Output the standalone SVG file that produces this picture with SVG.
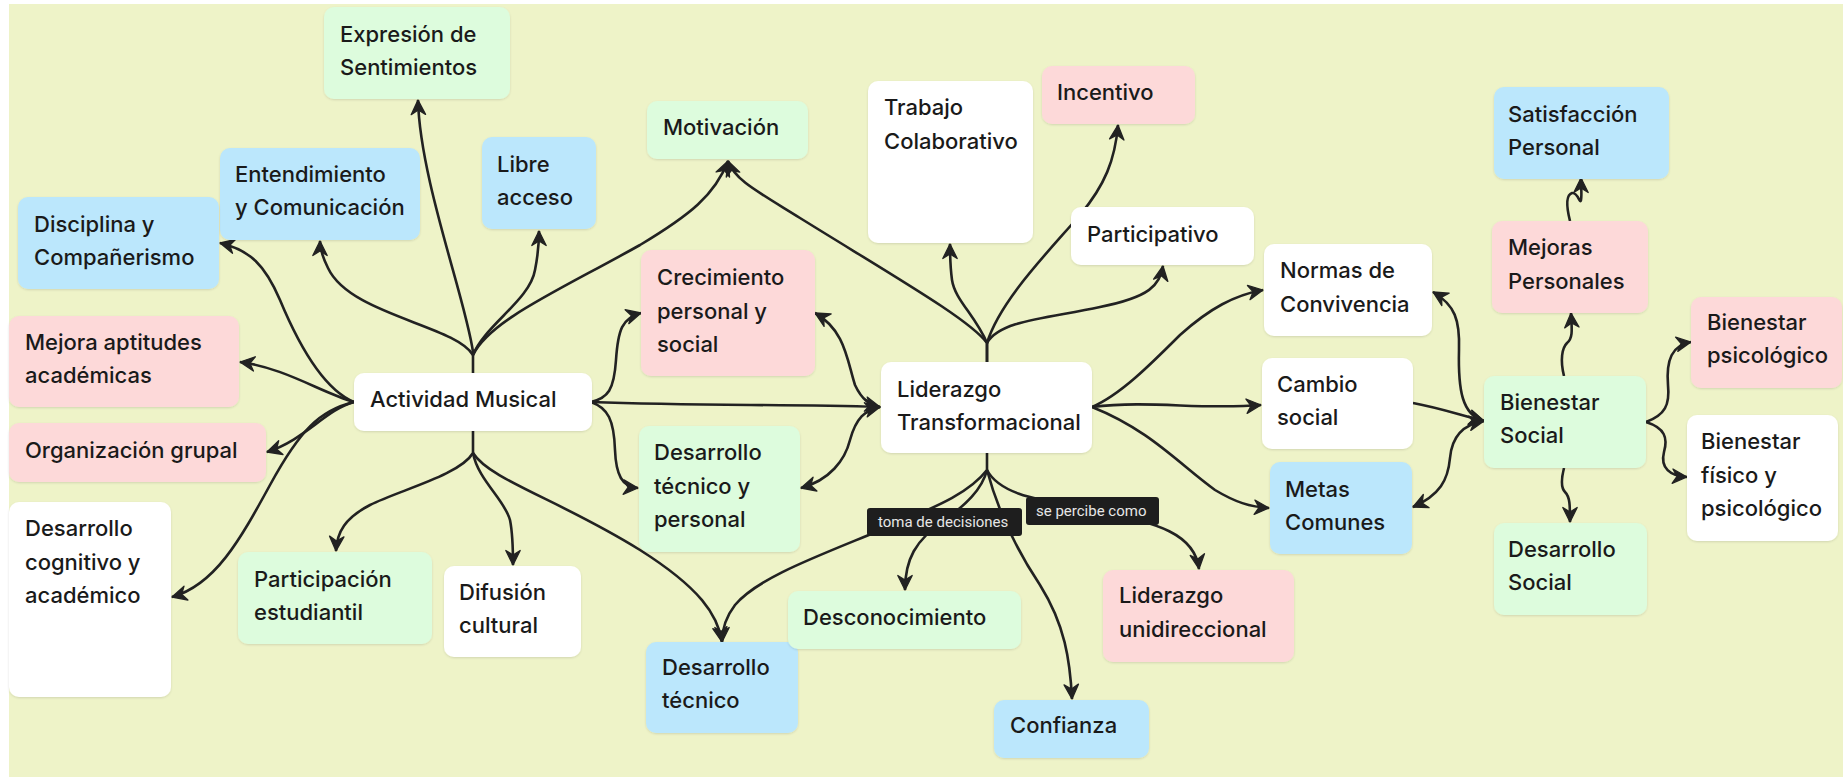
<svg xmlns="http://www.w3.org/2000/svg" width="1843" height="780" viewBox="0 0 1843 780">
<defs>
<style>
.n rect{stroke:none;filter:url(#sh)}
.g{fill:#ddfcdd}.b{fill:#bbe7fc}.p{fill:#fdd9d9}.w{fill:#ffffff}
.n text{font-family:Inter,"Noto Sans","DejaVu Sans",sans-serif;font-size:22px;font-weight:500;fill:#1a1a1a}
.c path{fill:none;stroke:#222;stroke-width:2.6;stroke-linecap:butt;stroke-linejoin:round}
.e{marker-end:url(#ah)}
.d{marker-start:url(#ah);marker-end:url(#ah)}
.lb rect{fill:#1e1e1e}
.lb text{font-family:Roboto,"Liberation Sans",sans-serif;font-size:15px;fill:#e6e6e6}
</style>
<filter id="sh" x="-10%" y="-10%" width="120%" height="130%">
<feDropShadow dx="0" dy="1" stdDeviation="1.2" flood-color="#000" flood-opacity="0.12"/>
</filter>
<marker id="ah" viewBox="0 0 18 18" refX="16" refY="9" markerWidth="18" markerHeight="18" markerUnits="userSpaceOnUse" orient="auto-start-reverse">
<path d="M1.5,1.8 L16,9 L1.5,16.2 L6,9 Z" fill="#222" stroke="#222" stroke-width="1.3" stroke-linejoin="round"/>
</marker>
</defs>
<rect x="0" y="0" width="1843" height="780" fill="#ffffff"/>
<rect x="9" y="4" width="1834" height="773" fill="#eef3c8"/>

<g id="connectors" class="c">
<path class="e" d="M473,373 V352 C466,300 420,180 418,100"/>
<path class="e" d="M473,355 C455,325 350,315 328,268 C323,258 320,250 320,241"/>
<path class="e" d="M473,355 C485,325 530,300 535,270 C538,255 539,245 539,231"/>
<path class="e" d="M473,355 C490,320 560,290 640,245 C690,215 715,195 728,161"/>
<path class="e" d="M987,362 V343 C970,320 900,280 800,218 C755,190 735,180 728,161"/>
<path class="e" d="M354,402 C330,392 305,360 280,300 C265,265 250,250 220,243"/>
<path class="e" d="M354,402 C320,392 285,368 240,362"/>
<path class="e" d="M354,402 C325,410 305,440 267,452"/>
<path class="e" d="M354,402 C320,410 300,430 270,485 C240,540 215,585 172,597"/>
<path class="e" d="M473,431 V453 C460,475 400,490 370,505 C345,518 337,532 336,551"/>
<path class="e" d="M473,453 C478,480 505,500 510,520 C513,535 513,550 513,565"/>
<path class="e" d="M473,453 C490,480 560,500 640,550 C700,588 718,615 722,642"/>
<path class="e" d="M591,402 C700,406 780,404 880,407"/>
<path class="e" d="M591,402 C608,398 614,390 616,360 C618,330 622,318 641,313"/>
<path class="e" d="M591,402 C608,408 614,420 615,450 C616,475 622,487 638,488"/>
<path class="d" d="M815,313 C845,330 847,360 855,385 C862,400 870,405 880,407"/>
<path class="d" d="M801,488 C830,480 845,460 850,440 C856,418 865,410 880,407"/>
<path class="e" d="M987,362 V343 C975,315 955,300 952,280 C950,265 950,255 950,244"/>
<path class="e" d="M987,343 C1000,300 1050,250 1080,215 C1105,185 1115,160 1118,125"/>
<path class="e" d="M987,343 C1000,320 1050,318 1100,307 C1150,297 1160,285 1163,266"/>
<path class="e" d="M1092,407 C1120,395 1150,365 1180,335 C1210,308 1235,295 1263,290"/>
<path class="e" d="M1092,407 C1150,400 1200,410 1261,405"/>
<path class="e" d="M1092,407 C1150,430 1180,465 1215,490 C1235,502 1250,507 1269,508"/>
<path class="e" d="M987,453 V470 C970,492 940,505 900,522 C830,552 760,575 735,605 C725,618 722,630 722,642"/>
<path class="e" d="M987,470 C982,490 965,505 945,520 C915,540 905,560 905,590"/>
<path class="e" d="M987,470 C995,500 1010,540 1040,585 C1065,625 1070,660 1072,699"/>
<path class="e" d="M987,470 C1000,495 1040,500 1090,510 C1160,522 1195,535 1199,569"/>
<path class="d" d="M1433,292 C1455,305 1460,320 1459,350 C1458,390 1462,415 1484,421"/>
<path class="e" d="M1413,403 C1440,408 1460,415 1484,421"/>
<path class="d" d="M1413,507 C1440,495 1448,480 1450,458 C1452,435 1465,424 1484,421"/>
<path class="e" d="M1564,376 C1560,360 1562,348 1567,343 C1573,338 1572,330 1571,313"/>
<path class="e" d="M1570,221 C1566,205 1566,195 1572,193 C1578,192 1580,205 1581,200 C1582,195 1581,188 1581,178"/>
<path class="e" d="M1564,468 C1561,480 1561,488 1565,492 C1570,497 1570,505 1570,522"/>
<path class="e" d="M1646,422 C1665,415 1670,405 1668,385 C1666,360 1672,345 1691,342"/>
<path class="e" d="M1646,422 C1665,428 1668,438 1664,452 C1660,468 1670,476 1687,477"/>
</g>

<g id="labels" class="lb">
<g id="lbl-toma"><rect x="867" y="508" width="155" height="28" rx="3"/><text x="878" y="527">toma de decisiones</text></g>
<g id="lbl-percibe"><rect x="1026" y="497" width="133" height="28" rx="3"/><text x="1036" y="516">se percibe como</text></g>
</g>

<g id="expresion" class="n"><rect class="g" x="324" y="7" width="186" height="92" rx="10"/><text x="340" y="42">Expresión de</text><text x="340" y="75">Sentimientos</text></g>
<g id="entendimiento" class="n"><rect class="b" x="220" y="148" width="200" height="92" rx="10"/><text x="235" y="182">Entendimiento</text><text x="235" y="215">y Comunicación</text></g>
<g id="libre" class="n"><rect class="b" x="482" y="137" width="114" height="92" rx="10"/><text x="497" y="172">Libre</text><text x="497" y="205">acceso</text></g>
<g id="disciplina" class="n"><rect class="b" x="18" y="197" width="201" height="92" rx="10"/><text x="34" y="232">Disciplina y</text><text x="34" y="265">Compañerismo</text></g>
<g id="mejora" class="n"><rect class="p" x="9" y="316" width="230" height="91" rx="10"/><text x="25" y="350">Mejora aptitudes</text><text x="25" y="383">académicas</text></g>
<g id="actividad" class="n"><rect class="w" x="354" y="373" width="238" height="58" rx="10"/><text x="370" y="407">Actividad Musical</text></g>
<g id="organizacion" class="n"><rect class="p" x="9" y="423" width="257" height="59" rx="10"/><text x="25" y="458">Organización grupal</text></g>
<g id="cognitivo" class="n"><rect class="w" x="9" y="502" width="162" height="195" rx="10"/><text x="25" y="536">Desarrollo</text><text x="25" y="570">cognitivo y</text><text x="25" y="603">académico</text></g>
<g id="participacion" class="n"><rect class="g" x="238" y="552" width="194" height="92" rx="10"/><text x="254" y="587">Participación</text><text x="254" y="620">estudiantil</text></g>
<g id="difusion" class="n"><rect class="w" x="444" y="566" width="137" height="91" rx="10"/><text x="459" y="600">Difusión</text><text x="459" y="633">cultural</text></g>
<g id="motivacion" class="n"><rect class="g" x="647" y="101" width="161" height="58" rx="10"/><text x="663" y="135">Motivación</text></g>
<g id="crecimiento" class="n"><rect class="p" x="641" y="250" width="174" height="126" rx="10"/><text x="657" y="285">Crecimiento</text><text x="657" y="319">personal y</text><text x="657" y="352">social</text></g>
<g id="dtp" class="n"><rect class="g" x="639" y="426" width="161" height="126" rx="10"/><text x="654" y="460">Desarrollo</text><text x="654" y="494">técnico y</text><text x="654" y="527">personal</text></g>
<g id="dtecnico" class="n"><rect class="b" x="646" y="642" width="152" height="91" rx="10"/><text x="662" y="675">Desarrollo</text><text x="662" y="708">técnico</text></g>
<g id="trabajo" class="n"><rect class="w" x="868" y="81" width="165" height="162" rx="10"/><text x="884" y="115">Trabajo</text><text x="884" y="149">Colaborativo</text></g>
<g id="incentivo" class="n"><rect class="p" x="1042" y="66" width="153" height="58" rx="10"/><text x="1057" y="100">Incentivo</text></g>
<g id="participativo" class="n"><rect class="w" x="1071" y="207" width="183" height="58" rx="10"/><text x="1087" y="242">Participativo</text></g>
<g id="liderazgo" class="n"><rect class="w" x="881" y="362" width="211" height="91" rx="10"/><text x="897" y="397">Liderazgo</text><text x="897" y="430">Transformacional</text></g>
<g id="desconocimiento" class="n"><rect class="g" x="788" y="591" width="233" height="58" rx="10"/><text x="803" y="625">Desconocimiento</text></g>
<g id="confianza" class="n"><rect class="b" x="994" y="700" width="155" height="58" rx="10"/><text x="1010" y="733">Confianza</text></g>
<g id="unidireccional" class="n"><rect class="p" x="1103" y="570" width="191" height="92" rx="10"/><text x="1119" y="603">Liderazgo</text><text x="1119" y="637">unidireccional</text></g>
<g id="normas" class="n"><rect class="w" x="1264" y="244" width="168" height="92" rx="10"/><text x="1280" y="278">Normas de</text><text x="1280" y="312">Convivencia</text></g>
<g id="cambio" class="n"><rect class="w" x="1262" y="358" width="151" height="91" rx="10"/><text x="1277" y="392">Cambio</text><text x="1277" y="425">social</text></g>
<g id="metas" class="n"><rect class="b" x="1270" y="462" width="142" height="92" rx="10"/><text x="1285" y="497">Metas</text><text x="1285" y="530">Comunes</text></g>
<g id="satisfaccion" class="n"><rect class="b" x="1494" y="87" width="175" height="92" rx="10"/><text x="1508" y="122">Satisfacción</text><text x="1508" y="155">Personal</text></g>
<g id="mejoras" class="n"><rect class="p" x="1492" y="221" width="156" height="92" rx="10"/><text x="1508" y="255">Mejoras</text><text x="1508" y="289">Personales</text></g>
<g id="bsocial" class="n"><rect class="g" x="1484" y="376" width="162" height="92" rx="10"/><text x="1500" y="410">Bienestar</text><text x="1500" y="443">Social</text></g>
<g id="bpsico" class="n"><rect class="p" x="1691" y="297" width="151" height="91" rx="10"/><text x="1707" y="330">Bienestar</text><text x="1707" y="363">psicológico</text></g>
<g id="bfisico" class="n"><rect class="w" x="1687" y="415" width="151" height="126" rx="10"/><text x="1701" y="449">Bienestar</text><text x="1701" y="483">físico y</text><text x="1701" y="516">psicológico</text></g>
<g id="dsocial" class="n"><rect class="g" x="1494" y="523" width="153" height="92" rx="10"/><text x="1508" y="557">Desarrollo</text><text x="1508" y="590">Social</text></g>
</svg>
